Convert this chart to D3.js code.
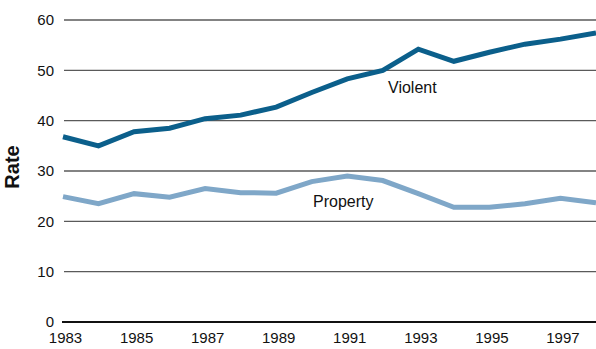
<!DOCTYPE html>
<html>
<head>
<meta charset="utf-8">
<script src="https://cdn.jsdelivr.net/npm/d3@7"></script>
<style>
  html, body { margin: 0; padding: 0; background: #fff; }
  svg { display: block; font-family: "Liberation Sans", Arial, sans-serif; }
</style>
</head>
<body>
<svg id="chart" width="596" height="349"></svg>
<script>
// Crime rates per year, 1983-1998
const years = [1983, 1984, 1985, 1986, 1987, 1988, 1989, 1990, 1991, 1992, 1993, 1994, 1995, 1996, 1997, 1998];
const violent = [36.8, 35.0, 37.8, 38.5, 40.4, 41.1, 42.7, 45.6, 48.3, 50.0, 54.2, 51.8, 53.6, 55.2, 56.2, 57.4];
const property = [24.9, 23.5, 25.5, 24.8, 26.5, 25.7, 25.6, 27.9, 29.0, 28.1, 25.5, 22.8, 22.8, 23.5, 24.6, 23.7];
const yTicks = [0, 10, 20, 30, 40, 50, 60];
const xTicks = [1983, 1985, 1987, 1989, 1991, 1993, 1995, 1997];

const svg = d3.select("#chart");
const plot = { left: 62, right: 596, top: 20, bottom: 322 };

const x = d3.scaleLinear().domain([1983, 1998]).range([plot.left + 1, plot.right]);
const y = d3.scaleLinear().domain([0, 60]).range([plot.bottom, plot.top]);

// Horizontal gridlines
svg.append("g")
  .selectAll("line")
  .data(yTicks.filter(d => d > 0))
  .join("line")
  .attr("x1", plot.left + 2)
  .attr("x2", plot.right)
  .attr("y1", d => y(d))
  .attr("y2", d => y(d))
  .attr("stroke", "#5a5a5a")
  .attr("stroke-width", 1.4);

// Baseline
svg.append("line")
  .attr("x1", plot.left)
  .attr("x2", plot.right)
  .attr("y1", y(0))
  .attr("y2", y(0))
  .attr("stroke", "#111")
  .attr("stroke-width", 2);

// Y axis labels
const yAxis = d3.axisLeft(y).tickValues(yTicks).tickSize(0).tickPadding(0);
svg.append("g")
  .attr("transform", `translate(${plot.left - 8},0)`)
  .call(yAxis)
  .call(g => g.select(".domain").remove())
  .call(g => g.selectAll("text")
    .attr("font-size", 15)
    .attr("font-family", "Liberation Sans, Arial, sans-serif")
    .attr("fill", "#111"));

// X axis labels
const xAxis = d3.axisBottom(x).tickValues(xTicks).tickFormat(d3.format("d")).tickSize(0).tickPadding(0);
svg.append("g")
  .attr("transform", `translate(2,${plot.bottom + 10})`)
  .call(xAxis)
  .call(g => g.select(".domain").remove())
  .call(g => g.selectAll("text")
    .attr("font-size", 15)
    .attr("font-family", "Liberation Sans, Arial, sans-serif")
    .attr("fill", "#111"));

// Y axis title
svg.append("text")
  .attr("transform", `translate(19,167) rotate(-90)`)
  .attr("text-anchor", "middle")
  .attr("font-size", 20)
  .attr("font-weight", "bold")
  .attr("fill", "#111")
  .text("Rate");

// Series lines
const line = d3.line().x((d, i) => x(years[i])).y(d => y(d));

svg.append("path")
  .datum(property)
  .attr("d", line)
  .attr("fill", "none")
  .attr("stroke", "#7fa7c8")
  .attr("stroke-width", 5);

svg.append("path")
  .datum(violent)
  .attr("d", line)
  .attr("fill", "none")
  .attr("stroke", "#0b5f8b")
  .attr("stroke-width", 5);

// Series labels
svg.append("text")
  .attr("x", 388)
  .attr("y", 93)
  .attr("font-size", 16)
  .attr("fill", "#111")
  .text("Violent");

svg.append("text")
  .attr("x", 313)
  .attr("y", 207)
  .attr("font-size", 16)
  .attr("fill", "#111")
  .text("Property");
</script>
</body>
</html>
